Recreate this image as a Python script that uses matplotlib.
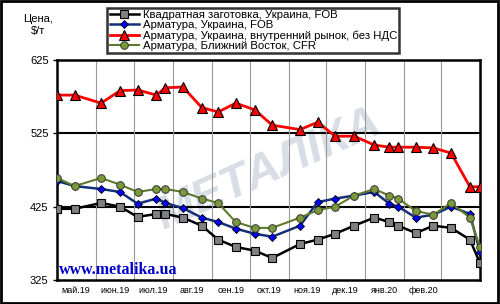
import numpy as np
import pandas as pd
import matplotlib
matplotlib.use('Agg')
import matplotlib.pyplot as plt
import matplotlib.dates as mdates
from matplotlib.patches import Rectangle

plt.rcParams['font.family'] = ['Liberation Sans', 'DejaVu Sans']

dates = pd.to_datetime([
    '2019-05-01', '2019-05-15', '2019-06-05', '2019-06-20', '2019-07-04',
    '2019-07-19', '2019-07-26', '2019-08-09', '2019-08-24', '2019-09-06',
    '2019-09-20', '2019-10-05', '2019-10-19', '2019-11-10', '2019-11-24',
    '2019-12-08', '2019-12-23', '2020-01-08', '2020-01-20', '2020-01-27',
    '2020-02-10', '2020-02-24', '2020-03-09', '2020-03-24', '2020-04-01'])

billet = [422, 422, 430, 425, 411, 415, 415, 410, 399, 380, 370, 365, 355,
          374, 380, 388, 399, 410, 404, 399, 389, 399, 396, 380, 348]
rebar_fob = [460, 453, 449, 445, 429, 436, 430, 423, 410, 404, 395, 388, 384,
             399, 431, 436, 440, 445, 429, 425, 410, 414, 425, 415, 363]
rebar_dom = [577, 577, 566, 583, 584, 577, 587, 588, 560, 554, 566, 557, 536,
             530, 540, 521, 521, 509, 506, 506, 506, 505, 498, 452, 452]
rebar_me = [464, 453, 464, 455, 445, 449, 449, 445, 436, 430, 404, 396, 396,
            410, 420, 425, 440, 449, 440, 436, 419, 414, 430, 410, 370]

labels = ['Квадратная заготовка, Украина, FOB',
          'Арматура, Украина, FOB',
          'Арматура, Украина, внутренний рынок, без НДС',
          'Арматура, Ближний Восток, CFR']
month_names = ['май.19', 'июн.19', 'июл.19', 'авг.19', 'сен.19',
               'окт.19', 'ноя.19', 'дек.19', 'янв.20', 'фев.20']
yticks = [325, 425, 525, 625]

fig = plt.figure(figsize=(5, 3.04), dpi=100)
ax = fig.add_axes([0.114, 0.079, 0.846, 0.724])

# watermark
ax.text(0.5, 0.5, 'МЕТАЛIКА', transform=ax.transAxes, fontsize=34,
        fontweight='bold', style='italic', color='#d8dee6', rotation=24,
        ha='center', va='center', zorder=0)

l1, = ax.plot(dates, billet, color='black', lw=1.8, marker='s', ms=5.5,
              mfc='#808080', mec='black', mew=0.8, zorder=3)
l2, = ax.plot(dates, rebar_fob, color='#13307a', lw=1.8, marker='D', ms=4.5,
              mfc='#0000ff', mec='black', mew=0.6, zorder=4)
l3, = ax.plot(dates, rebar_dom, color='#ff0000', lw=2, marker='^', ms=6.5,
              mfc='#ff0000', mec='black', mew=0.8, zorder=4)
l4, = ax.plot(dates, rebar_me, color='#5f7a2a', lw=1.5, marker='o', ms=5.5,
              mfc='#7a9a3a', mec='#333333', mew=0.7, zorder=5)

ax.set_ylim(325, 625)
ax.set_yticks(yticks)
ax.set_yticklabels([str(v) for v in yticks], fontsize=8)
ax.set_xlim(dates[0], dates[-1])

month_starts = pd.date_range('2019-06-01', '2020-03-01', freq='MS')
ax.set_xticks(month_starts)
ax.set_xticklabels([])
ax.tick_params(axis='x', which='major', length=0)
mids = [d + pd.Timedelta(days=15) for d in pd.date_range('2019-05-01', '2020-02-01', freq='MS')]
ax.set_xticks(mids, minor=True)
ax.set_xticklabels(month_names, minor=True, fontsize=6.5)
ax.tick_params(axis='x', which='minor', length=0, pad=4)
ax.tick_params(axis='y', length=3, width=1, pad=3)

ax.grid(axis='x', which='major', color='#999999', lw=0.8)
for v in [425, 525]:
    ax.axhline(v, color='black', lw=1.5, zorder=1)
for s in ax.spines.values():
    s.set_linewidth(1.8)

fig.text(0.077, 0.918, 'Цена,\n$/т', ha='center', va='center', fontsize=8,
         linespacing=1.25)
fig.text(0.118, 0.112, 'www.metalika.ua', color='#0000cc', fontsize=11.5,
         fontweight='bold', family='Liberation Serif', ha='left', va='center')

leg = fig.legend([l1, l2, l3, l4], labels, loc='upper left',
                 bbox_to_anchor=(0.214, 0.975), fontsize=8.2, frameon=True,
                 fancybox=False, borderpad=0.22, labelspacing=0.0,
                 handlelength=2.6, handletextpad=0.3, borderaxespad=0)
leg.get_frame().set_edgecolor('black')
leg.get_frame().set_linewidth(1.8)

fig.patches.append(Rectangle((0.002, 0.003), 0.994, 0.994, transform=fig.transFigure,
                             fill=False, edgecolor='black', lw=2))

fig.savefig('out.png', dpi=100)
